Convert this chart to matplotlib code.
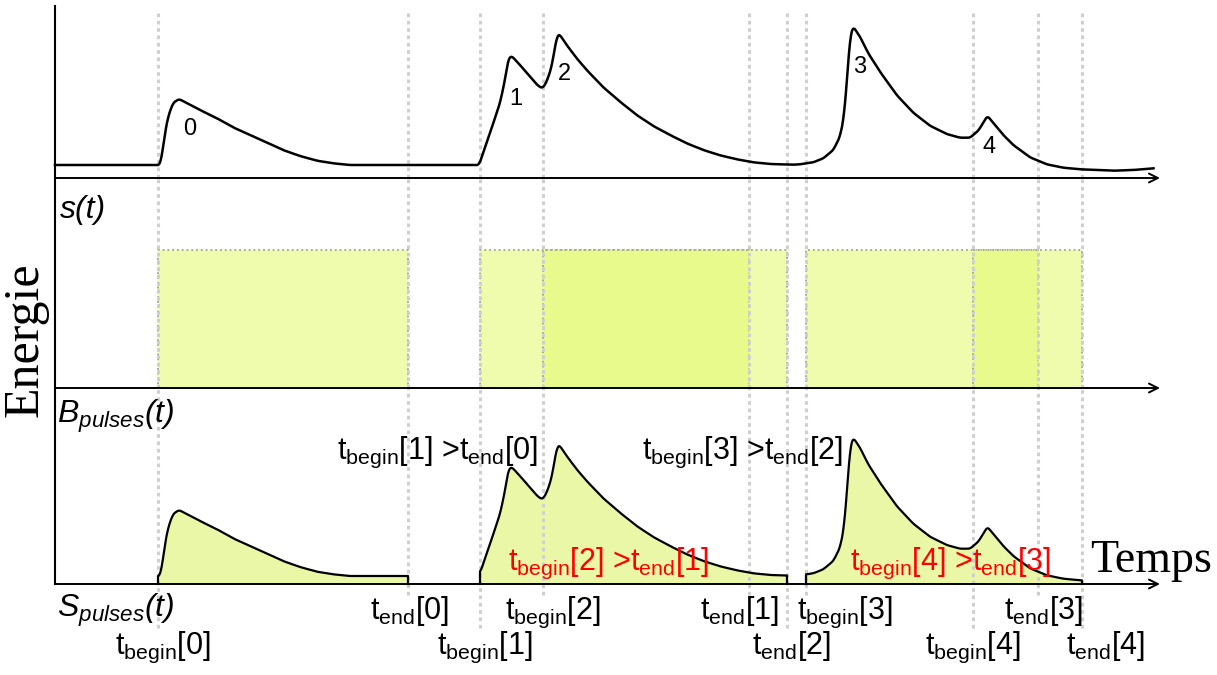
import numpy as np
import matplotlib
matplotlib.use('Agg')
import matplotlib.pyplot as plt

plt.rcParams['font.family'] = ['Liberation Sans', 'DejaVu Sans']
plt.rcParams['mathtext.fontset'] = 'custom'
plt.rcParams['mathtext.rm'] = 'Liberation Sans'
plt.rcParams['mathtext.it'] = 'Liberation Sans:italic'

# signal s(t) (time in arbitrary units, energy above baseline)
sig_t = [55, 160, 161.7, 165, 168, 173, 179, 200, 217, 233, 250, 267, 283, 300, 317, 333, 350, 367,
         479, 490, 500, 505, 507.3, 509.3, 511.7, 520, 530, 538.3, 542.7, 546.7, 551.7, 555, 557.3, 559.3,
         566.7, 576.7, 586.7, 603.3, 620, 636.7, 653.3, 670, 686.7, 703.3, 720, 736.7, 753.3, 770, 793.3,
         800, 813.3, 823.3, 833.3, 840, 844, 846.7, 849, 851, 853.3, 860, 868.3, 880, 896.7, 913.3, 930,
         946.7, 960, 970, 978.3, 983.3, 987.3, 995, 1003.3, 1013.3, 1030, 1046.7, 1063.3, 1080, 1113.3,
         1133.3, 1153.3]
sig_e = [0, 0, 8, 32, 48, 62, 66, 55, 46.7, 37.7, 30, 22.3, 15, 9, 4.3, 1.7, 0, 0,
         0, 32, 62, 85, 101.7, 107.7, 109, 100, 88.3, 79, 76.7, 83.3, 98.3, 118.3, 130, 131,
         120, 106.7, 95, 77.7, 63.3, 50, 39, 30, 21.7, 15, 9.7, 5.7, 2.7, 1, 0.3,
         0.7, 2.7, 6.7, 15, 28.3, 48.3, 81.7, 115, 133.3, 138.3, 128.3, 111.7, 93.3, 70, 52.3, 39.3,
         31, 27.3, 27.3, 34.3, 42.3, 49.3, 40, 30, 20, 7.7, 0.7, -2.7, -4.3, -5.7,
         -5, -3.3]

pulse_ids = ['0', '1', '2', '3', '4']
pulse_label_x = [190, 516, 564, 860, 989]
pulse_label_y = [135, 105, 80, 73, 153]

t_begin = [158, 480, 543, 806, 973]
t_end = [408, 749, 787, 1038, 1082]
begin_row = [1, 1, 0, 0, 1]   # 0 = upper label row, 1 = lower label row
end_row = [0, 0, 1, 0, 1]
begin_label_x = [115, 437, 505, 797, 925]
end_label_x = [370, 700, 752, 1004, 1066]

window_height = 138
pedestal = 8

W, H = 1217, 675
fig = plt.figure(figsize=(12.17, 6.75), dpi=100)


def panel(top, bottom):
    ax = fig.add_axes([0, 1 - bottom / H, 1, (bottom - top) / H])
    ax.set_xlim(0, W)
    ax.axis('off')
    ax.patch.set_visible(False)
    return ax


def smooth_curve(a, b, k=9):
    # sample the traced polyline finely and round off its corners a little
    tt = np.arange(a, b + 0.25, 0.5)
    ee = np.interp(tt, sig_t, sig_e)
    pad = k // 2
    ep = np.r_[np.full(pad, ee[0]), ee, np.full(pad, ee[-1])]
    return tt, np.convolve(ep, np.ones(k) / k, mode='valid')


ax1 = panel(0, 178)
ax1.set_ylim(-13, 165)
ax2 = panel(178, 388)
ax2.set_ylim(0, 210)
ax3 = panel(388, 675)
ax3.set_ylim(-91, 196)

grid_kw = dict(color='#cfcfcf', lw=2.2, ls=(0, (1.2, 1.2)), zorder=2)
row_bottom = [595, 628]
for t, row in zip(t_begin + t_end, begin_row + end_row):
    ax1.axvline(t, 0, (178 - 10) / 178, **grid_kw)
    ax2.axvline(t, 0, 1, **grid_kw)
    ax3.axvline(t, (H - row_bottom[row]) / (H - 388), 1, **grid_kw)

# top: measured signal
st, se = smooth_curve(sig_t[0], sig_t[-1])
ax1.plot(st, se, color='black', lw=1.8, zorder=3)

# middle: pulse windows
widths = np.array(t_end) - np.array(t_begin)
ax2.bar(t_begin, window_height, width=widths, align='edge',
        color=(0.894, 0.98, 0.44, 0.56), edgecolor='#a0a0a0', linestyle=':', linewidth=1.3, zorder=1)

# bottom: pulses cut at their windows (overlapping windows merged)
groups = []
for b, e in sorted(zip(t_begin, t_end)):
    if groups and b <= groups[-1][1]:
        groups[-1][1] = max(groups[-1][1], e)
    else:
        groups.append([b, e])
for a, b in groups:
    tt, bb = smooth_curve(a, b)
    bb = bb + pedestal
    ax3.fill_between(tt, 0, bb, color='#eaf7a6', lw=0, zorder=1)
    ax3.plot(np.r_[a, tt, b], np.r_[0, bb, 0], color='black', lw=1.6, zorder=3)

# overlay for axes, arrows and labels (pixel coordinates)
ax0 = fig.add_axes([0, 0, 1, 1])
ax0.set_xlim(0, W)
ax0.set_ylim(H, 0)
ax0.axis('off')
ax0.patch.set_visible(False)

ax0.plot([55, 55], [6, 584], color='black', lw=1.5)
for y in [178, 388, 584]:
    ax0.annotate('', xy=(1160, y), xytext=(55, y),
                 arrowprops=dict(arrowstyle='->', lw=1.4, color='black', mutation_scale=16,
                                 shrinkA=0, shrinkB=0))

for s, x, y in zip(pulse_ids, pulse_label_x, pulse_label_y):
    ax0.text(x, y, s, ha='center', va='baseline', fontsize=17)

ax0.text(60, 218, 's(t)', fontsize=23, style='italic', va='baseline')
ax0.text(57, 423, 'B$_{\\mathit{pulses}}$(t)', fontsize=23, style='italic', va='baseline')
ax0.text(57, 617, 'S$_{\\mathit{pulses}}$(t)', fontsize=23, style='italic', va='baseline')

ax0.text(25, 340, 'Energie', family='Liberation Serif', fontsize=36, rotation=90,
         ha='center', va='center')
ax0.text(1090, 572, 'Temps', family='Liberation Serif', fontsize=33, va='baseline')

row_y = [619, 654]
lab_fs = 22
for i, (x, row) in enumerate(zip(begin_label_x, begin_row)):
    ax0.text(x, row_y[row], 't$_{\\mathrm{begin}}$[%d]' % i, fontsize=lab_fs, va='baseline')
for i, (x, row) in enumerate(zip(end_label_x, end_row)):
    ax0.text(x, row_y[row], 't$_{\\mathrm{end}}$[%d]' % i, fontsize=lab_fs, va='baseline')

cond = 't$_{\\mathrm{begin}}$[%d] >t$_{\\mathrm{end}}$[%d]'
ax0.text(337, 459, cond % (1, 0), fontsize=lab_fs, va='baseline', color='black')
ax0.text(642, 459, cond % (3, 2), fontsize=lab_fs, va='baseline', color='black')
ax0.text(508, 570, cond % (2, 1), fontsize=lab_fs, va='baseline', color='red')
ax0.text(850, 570, cond % (4, 3), fontsize=lab_fs, va='baseline', color='red')

fig.savefig('out.png', dpi=100)
